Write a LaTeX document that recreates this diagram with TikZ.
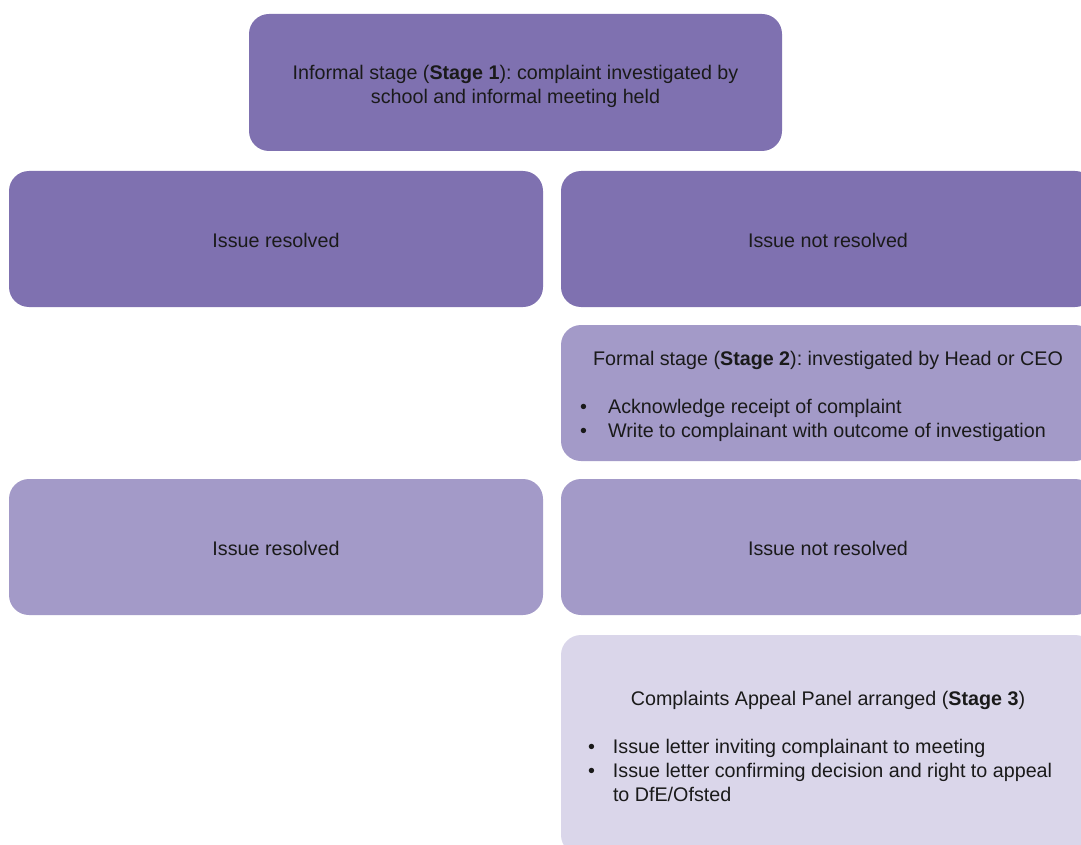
\documentclass[tikz,border=0pt]{standalone}
\usepackage{fontspec}
\setmainfont{Liberation Sans}
\usepackage{xcolor}
\usepackage{tikz}
\usetikzlibrary{positioning}
\definecolor{deeppurple}{RGB}{127,113,176}
\definecolor{midpurple}{RGB}{163,154,200}
\definecolor{palepurple}{RGB}{218,214,234}
\definecolor{ink}{RGB}{26,26,26}
\newcommand{\stg}[1]{(\textbf{Stage #1})}
\newcommand{\bul}[1]{\hspace*{#1}\textbullet}
\newcommand{\dropby}[2]{\raisebox{-#1}[\height][\depth]{#2}}

\begin{document}
\begin{tikzpicture}[x=1pt,y=-1pt,font=\fontsize{19.7}{24}\selectfont\frenchspacing,text=ink,
  stagebox/.style={rectangle,rounded corners=20pt,minimum width=534pt,minimum height=136pt,inner sep=0pt,align=center}]
\useasboundingbox (0,0) rectangle (1081,845);
\clip (0,0) rectangle (1081,845);
% stage 1
\node[stagebox,fill=deeppurple,minimum width=533pt,minimum height=137pt] (informal) at (515.5,82.5)
   {\dropby{4pt}{\begin{tabular}{@{}c@{}}
    Informal stage \stg{1}: complaint investigated by\\school and informal meeting held
    \end{tabular}}};
\node[stagebox,fill=deeppurple] (resolvedA) at (276,239){\dropby{1pt}{Issue resolved}};
\node[stagebox,fill=deeppurple] (openA) at (828,239){\dropby{1pt}{Issue not resolved}};
% stage 2
\node[stagebox,fill=midpurple] (formal) at (828,393){\dropby{4pt}{%
   \begin{tabular}{@{}p{15pt}@{}p{455pt}@{}}
   \multicolumn{2}{c}{Formal stage \stg{2}: investigated by Head or CEO}\\[24pt]
   \bul{-7pt} & \hspace*{6pt}Acknowledge receipt of complaint\\
   \bul{-7pt} & \hspace*{6pt}Write to complainant with outcome of investigation
   \end{tabular}}};
\node[stagebox,fill=midpurple] (resolvedB) at (276,547){\dropby{1pt}{Issue resolved}};
\node[stagebox,fill=midpurple] (openB) at (828,547){\dropby{1pt}{Issue not resolved}};
% stage 3
\node[stagebox,fill=palepurple,minimum height=220pt] (appeal) at (828,745){\dropby{4pt}{%
   \begin{tabular}{@{}p{10pt}@{}p{440pt}@{}}
   \multicolumn{2}{c}{Complaints Appeal Panel arranged \stg{3}}\\[24pt]
   \bul{-15pt} & Issue letter inviting complainant to meeting\\
   \bul{-15pt} & Issue letter confirming decision and right to appeal\\
   & to DfE/Ofsted
   \end{tabular}}};
\end{tikzpicture}
\end{document}
